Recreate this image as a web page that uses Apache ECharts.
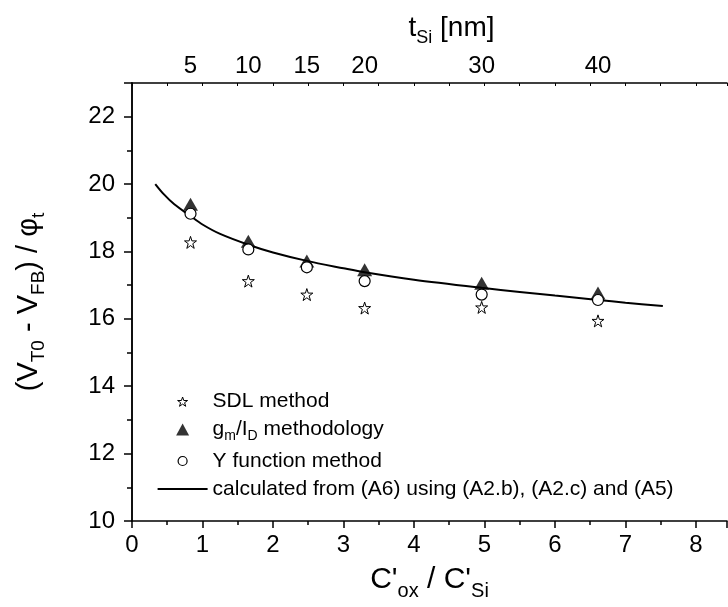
<!DOCTYPE html>
<html>
  <head>
    <meta charset="utf-8" />
    <title>(VT0 - VFB) / phi_t versus C'ox / C'Si</title>
    <script src="https://cdn.jsdelivr.net/npm/echarts@6/dist/echarts.min.js"></script>
    <style>
      body {
        margin: 0;
        background: #fff;
      }
      #main {
        width: 728px;
        height: 607px;
      }
    </style>
  </head>
  <body>
    <div id="main"></div>
    <script type="text/javascript">
      // measured points, x = C'ox / C'Si
      var xPos = [0.83, 1.65, 2.48, 3.3, 4.96, 6.61];
      var sdlVals = [18.27, 17.12, 16.72, 16.32, 16.34, 15.94];
      var gmVals = [19.4, 18.3, 17.72, 17.46, 17.06, 16.77];
      var yfnVals = [19.12, 18.06, 17.53, 17.12, 16.72, 16.56];

      // calculated curve (A6)
      var curveX = [0.33, 0.45, 0.6, 0.83, 1.0, 1.25, 1.65, 2.0, 2.48, 3.0, 3.3, 4.0, 4.96, 5.5, 6.0, 6.61, 7.0, 7.53];
      var curveY = [20.0, 19.7, 19.4, 19.05, 18.8, 18.52, 18.2, 17.97, 17.72, 17.5, 17.38, 17.16, 16.92, 16.8, 16.69, 16.56, 16.48, 16.38];

      // top axis: t_Si [nm] at the same positions
      var tsiLabels = ["5", "10", "15", "20", "30", "40"];

      var legendText = {
        SDL: "{n|SDL method}",
        gm: "{n|g}{s|m}{n|/I}{s|D}{n| methodology}",
        Y: "{n|Y function method}",
        calc: "{n|calculated from (A6) using (A2.b), (A2.c) and (A5)}",
      };

      function pairs(xs, ys) {
        return xs.map(function (x, i) {
          return [x, ys[i]];
        });
      }

      var FONT = "Liberation Sans";
      var starPath =
        "path://M50,2 L61,36 L97,36 L68,57 L79,92 L50,71 L21,92 L32,57 L3,36 L39,36 Z";

      // legend icons drawn inside a 50 x 12 box (the M points fix the box)
      var box = "path://M0,0 M50,12 ";
      var legStar = box + "M25,1.5 L26.2,5 L30,5 L27,7.2 L28.1,10.8 L25,8.6 L21.9,10.8 L23,7.2 L20,5 L23.8,5 Z";
      var legTri = box + "M25,0 L31.5,12 L18.5,12 Z";
      var legCircle = box + "M29.5,6 A4.5,4.5 0 1 1 20.5,6 A4.5,4.5 0 1 1 29.5,6 Z";
      var legLine = box + "M0,5.1 L50,5.1 L50,6.9 L0,6.9 Z";

      var myChart = echarts.init(document.getElementById("main"));

      var axisLine = { show: true, lineStyle: { color: "#000", width: 1.5 } };

      var option = {
        animation: false,
        textStyle: { fontFamily: FONT, color: "#000" },
        grid: { left: 132, right: 1, top: 83, bottom: 86 },
        legend: {
          orient: "vertical",
          left: 157,
          top: 391,
          padding: 0,
          itemWidth: 50,
          itemHeight: 12,
          itemGap: 7,
          data: [
            { name: "SDL", icon: legStar, itemStyle: { color: "#fff", borderColor: "#000", borderWidth: 1 } },
            { name: "gm", icon: legTri, itemStyle: { color: "#000", borderWidth: 0 } },
            { name: "Y", icon: legCircle, itemStyle: { color: "#fff", borderColor: "#000", borderWidth: 1.2 } },
            { name: "calc", icon: legLine, itemStyle: { color: "#000", borderWidth: 0 } },
          ],
          formatter: function (name) {
            return legendText[name];
          },
          textStyle: {
            fontFamily: FONT,
            color: "#000",
            rich: {
              n: { fontSize: 21, fontFamily: FONT, color: "#000", lineHeight: 22 },
              s: { fontSize: 14, fontFamily: FONT, color: "#000", padding: [14, 0, 0, 0] },
            },
          },
        },
        xAxis: [
          {
            type: "value",
            position: "bottom",
            min: 0,
            max: 8.44,
            interval: 1,
            axisLine: axisLine,
            axisTick: { show: true, inside: false, length: 7, lineStyle: { color: "#000", width: 1.5 } },
            minorTick: { show: true, splitNumber: 2, length: 4, lineStyle: { color: "#000", width: 1.5 } },
            splitLine: { show: false },
            axisLabel: { fontSize: 24, fontFamily: FONT, color: "#000", margin: 12, showMaxLabel: false },
            name: "{a|C'}{b|ox}{a| / C'}{b|Si}",
            nameLocation: "middle",
            nameGap: 38,
            nameTextStyle: {
              rich: {
                a: { fontSize: 30, fontFamily: FONT, color: "#000" },
                b: { fontSize: 20, fontFamily: FONT, color: "#000", padding: [22, 0, 0, 0] },
              },
            },
          },
          {
            type: "value",
            position: "top",
            min: 0,
            max: 8.44,
            interval: 0.5,
            axisLine: axisLine,
            axisTick: { show: true, inside: true, length: 3, lineStyle: { color: "#000", width: 1 } },
            splitLine: { show: false },
            axisLabel: {
              customValues: xPos,
              fontSize: 24,
              fontFamily: FONT,
              color: "#000",
              margin: 5,
              formatter: function (v) {
                for (var i = 0; i < xPos.length; i++) {
                  if (Math.abs(xPos[i] - v) < 1e-6) return tsiLabels[i];
                }
                return "";
              },
            },
            name: "{a|t}{b|Si}{a| [nm]}",
            nameLocation: "middle",
            nameGap: 36,
            nameTextStyle: {
              padding: [0, 0, 0, 44],
              rich: {
                a: { fontSize: 28, fontFamily: FONT, color: "#000" },
                b: { fontSize: 18, fontFamily: FONT, color: "#000", padding: [20, 0, 0, 0] },
              },
            },
          },
        ],
        yAxis: [
          {
            type: "value",
            position: "left",
            min: 10,
            max: 23,
            interval: 2,
            axisLine: axisLine,
            axisTick: { show: true, inside: false, length: 8, lineStyle: { color: "#000", width: 1.5 } },
            minorTick: { show: true, splitNumber: 2, length: 5, lineStyle: { color: "#000", width: 1.5 } },
            splitLine: { show: false },
            axisLabel: { fontSize: 24, fontFamily: FONT, color: "#000", margin: 17, showMaxLabel: false },
            name: "{a|(V}{b|T0}{a| - V}{b|FB}{a|) / φ}{b|t}",
            nameLocation: "middle",
            nameGap: 84,
            nameTextStyle: {
              rich: {
                a: { fontSize: 29, fontFamily: FONT, color: "#000" },
                b: { fontSize: 19, fontFamily: FONT, color: "#000", padding: [20, 0, 0, 0] },
              },
            },
          },
          {
            type: "value",
            position: "right",
            min: 10,
            max: 23,
            interval: 2,
            axisLine: axisLine,
            axisTick: { show: true, inside: true, length: 6, lineStyle: { color: "#000", width: 1.5 } },
            minorTick: { show: true, splitNumber: 2, length: 3, lineStyle: { color: "#000", width: 1.5 } },
            splitLine: { show: false },
            axisLabel: { show: false },
          },
        ],
        series: [
          {
            name: "calc",
            type: "line",
            data: pairs(curveX, curveY),
            smooth: 0.3,
            symbol: "none",
            lineStyle: { color: "#000", width: 2 },
            itemStyle: { color: "#000" },
            z: 2,
          },
          {
            name: "gm",
            type: "scatter",
            data: pairs(xPos, gmVals),
            symbol: "triangle",
            symbolSize: [15, 13],
            itemStyle: { color: "#000" },
            z: 3,
          },
          {
            name: "Y",
            type: "scatter",
            data: pairs(xPos, yfnVals),
            symbol: "circle",
            symbolSize: 11,
            itemStyle: { color: "#fff", borderColor: "#000", borderWidth: 1.2, opacity: 1 },
            z: 4,
          },
          {
            name: "SDL",
            type: "scatter",
            data: pairs(xPos, sdlVals),
            symbol: starPath,
            symbolSize: 12,
            itemStyle: { color: "#fff", borderColor: "#000", borderWidth: 1, opacity: 1 },
            z: 5,
          },
        ],
      };

      myChart.setOption(option);
    </script>
  </body>
</html>
